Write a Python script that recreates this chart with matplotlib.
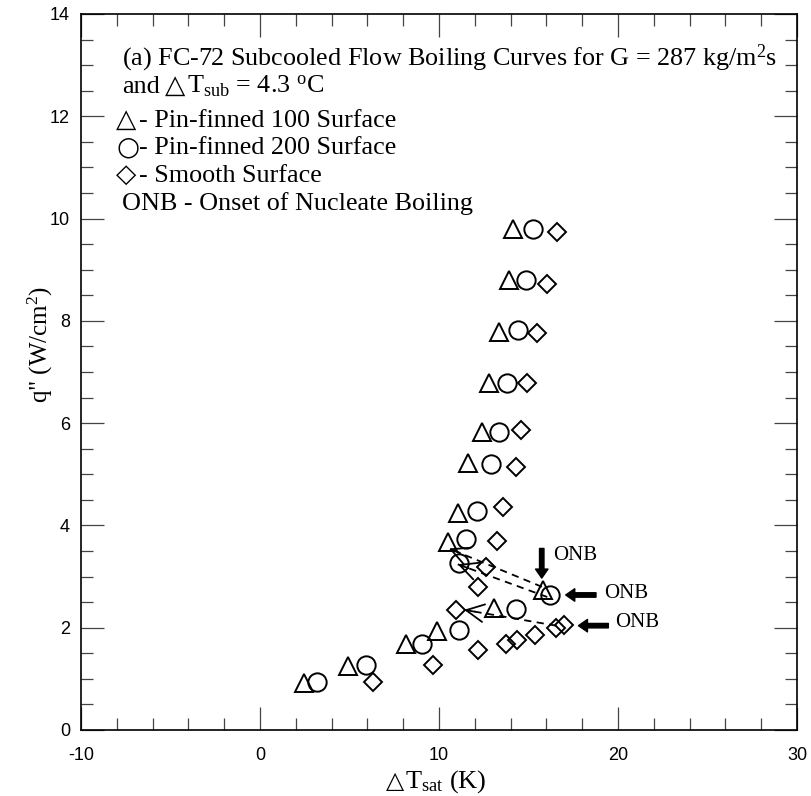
import matplotlib
matplotlib.use("Agg")
import matplotlib.pyplot as plt
from matplotlib.ticker import MultipleLocator

plt.rcParams['mathtext.fontset'] = 'custom'
plt.rcParams['mathtext.rm'] = 'Liberation Serif'
plt.rcParams['mathtext.it'] = 'Liberation Serif:italic'
plt.rcParams['mathtext.bf'] = 'Liberation Serif:bold'
plt.rcParams['axes.unicode_minus'] = False
SERIF = 'Liberation Serif'
SANS = 'Liberation Sans'
SYM = 'DejaVu Sans'

# ---- data ----
# Pin-finned 100 surface (triangles)
pf100_dT = [2.46, 4.93, 8.14, 9.90, 13.10, 15.80, 10.52, 11.08, 11.64, 12.38, 12.81, 13.37, 13.93, 14.15]
pf100_q  = [0.92, 1.25, 1.69, 1.93, 2.38, 2.74, 3.68, 4.24, 5.23, 5.83, 6.78, 7.79, 8.80, 9.80]
# Pin-finned 200 surface (circles)
pf200_dT = [3.20, 5.90, 9.03, 11.14, 14.30, 16.20, 11.12, 11.49, 12.14, 12.90, 13.37, 13.82, 14.43, 14.86, 15.27]
pf200_q  = [0.94, 1.27, 1.69, 1.96, 2.36, 2.63, 3.26, 3.73, 4.28, 5.21, 5.83, 6.78, 7.82, 8.80, 9.80]
# Smooth surface (diamonds)
sm_dT = [6.33, 9.65, 12.20, 13.72, 14.37, 15.36, 16.54, 17.00, 10.95, 12.20, 12.63, 13.22, 13.60, 14.28, 14.58, 14.93, 15.49, 16.05, 16.60]
sm_q  = [0.94, 1.28, 1.56, 1.68, 1.76, 1.86, 1.99, 2.05, 2.35, 2.80, 3.19, 3.70, 4.37, 5.14, 5.87, 6.78, 7.77, 8.73, 9.74]

# hysteresis (dashed) arrows: start -> tip
dash_start = [(15.75, 2.80), (16.05, 2.60), (16.55, 2.04)]
dash_tip   = [(10.55, 3.55), (11.05, 3.24), (11.40, 2.35)]

# ONB bold arrows: tail -> tip, and label positions
onb_tail = [(15.74, 3.55), (18.77, 2.64), (19.46, 2.04)]
onb_tip  = [(15.74, 2.97), (17.08, 2.64), (17.79, 2.04)]
onb_text = [(16.35, 3.42), (19.22, 2.67), (19.83, 2.10)]

x_major = [-10, 0, 10, 20, 30]
y_major = [0, 2, 4, 6, 8, 10, 12, 14]

# legend block: (symbol, text) per line, baseline in pixels from top
legend_sym = [None, None, "\u25B3", "\u25CB", "\u25C7", None]
legend_txt = [
    "(a) FC-72 Subcooled Flow Boiling Curves for G = 287 kg/m$^{\\rm 2}$s",
    None,
    "- Pin-finned 100 Surface",
    "- Pin-finned 200 Surface",
    "- Smooth Surface",
    "ONB - Onset of Nucleate Boiling",
]
legend_base_px = [65, 93.3, 126.7, 154, 181.7, 210]

W, H = 811, 796
fig = plt.figure(figsize=(W/100, H/100), dpi=100)
ax = fig.add_axes([81/W, 1-730/H, 716/W, 716/H])


def ftext(xpx, ypx, s, **kw):
    return fig.text(xpx/W, 1 - ypx/H, s, va='baseline', ha='left', **kw)


mk = dict(linestyle='none', mfc='none', mec='black', mew=1.4)
ax.plot(pf100_dT, pf100_q, marker='^', ms=13.5, **mk)
ax.plot(pf200_dT, pf200_q, marker='o', ms=13.2, **mk)
ax.plot(sm_dT, sm_q, marker='D', ms=8.8, **mk)

for (x0, y0), (x1, y1) in zip(dash_start, dash_tip):
    ax.plot([x0, x1], [y0, y1], color='black', lw=1.3, ls=(0, (4, 3)))
    dx, dy = x1 - x0, y1 - y0
    ax.annotate('', xy=(x1, y1), xytext=(x1 - 0.12*dx, y1 - 0.12*dy),
                arrowprops=dict(arrowstyle='->,head_length=0.8,head_width=0.4',
                                color='black', lw=1.3, mutation_scale=16,
                                shrinkA=0, shrinkB=0))

for (tx, ty), (hx, hy), (lx, ly) in zip(onb_tail, onb_tip, onb_text):
    ax.annotate('', xy=(hx, hy), xytext=(tx, ty),
                arrowprops=dict(facecolor='black', edgecolor='black', width=3.2,
                                headwidth=9, headlength=6.5, shrink=0))
    ax.text(lx, ly, 'ONB', family=SERIF, fontsize=15, ha='left', va='center')

# legend-like text block
SYM_SIZE = 19
for sym, txt, yb in zip(legend_sym, legend_txt, legend_base_px):
    if sym is not None:
        ftext(116, yb, sym, family=SYM, fontsize=SYM_SIZE)
        ftext(139, yb, txt, family=SERIF, fontsize=18.8)
    elif txt is not None:
        ftext(122, yb, txt, family=SERIF, fontsize=18.8)
# second line: "and △T_sub = 4.3 °C"
ftext(122, legend_base_px[1], "and", family=SERIF, fontsize=18.8)
ftext(165, legend_base_px[1], "\u25B3", family=SYM, fontsize=SYM_SIZE)
ftext(187, legend_base_px[1], "T$_{\\rm sub}$ = 4.3 $^{\\rm o}$C", family=SERIF, fontsize=18.8)

ax.set_xlim(-10, 30)
ax.set_ylim(0, 14)
ax.set_xticks(x_major)
ax.set_yticks(y_major)
ax.xaxis.set_minor_locator(MultipleLocator(2))
ax.yaxis.set_minor_locator(MultipleLocator(0.5))
ax.tick_params(which='both', direction='in', top=True, right=True, color='#444444', width=0.9)
ax.tick_params(which='major', length=16.5)
ax.tick_params(which='minor', length=8.6)
ax.tick_params(axis='x', which='major', pad=12, labelsize=13)
ax.tick_params(axis='y', which='major', pad=8, labelsize=13)
for lab in ax.get_xticklabels() + ax.get_yticklabels():
    lab.set_family(SANS)
for sp in ax.spines.values():
    sp.set_linewidth(1.2)

# x label: "△T_sat (K)"
ftext(386, 788, "\u25B3", family=SYM, fontsize=17)
ftext(405, 788, "T$_{\\rm sat}$ (K)", family=SERIF, fontsize=19)

ax.set_ylabel("q\" (W/cm$^{\\rm 2}$)", family=SERIF, fontsize=18)
ax.yaxis.set_label_coords(-0.057, 0.538)
ax.yaxis.label.set_va('center')

fig.savefig('out.png', dpi=100)
